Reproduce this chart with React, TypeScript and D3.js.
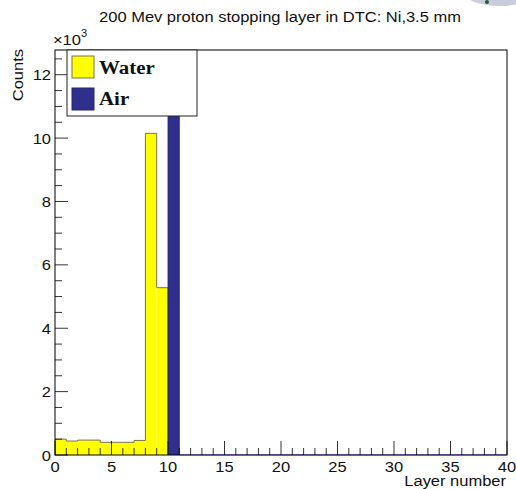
import React from "react";
import * as d3 from "d3";

const title = "200 Mev proton stopping layer in DTC: Ni,3.5 mm";
const layerEdges = d3.range(0, 41);
const waterCounts = [500, 440, 470, 470, 400, 400, 400, 460, 10150, 5280, 0, 0, 0, 0, 0, 0, 0, 0, 0, 0, 0, 0, 0, 0, 0, 0, 0, 0, 0, 0, 0, 0, 0, 0, 0, 0, 0, 0, 0, 0];
const airCounts = [0, 0, 0, 0, 0, 0, 0, 0, 0, 0, 15200, 0, 0, 0, 0, 0, 0, 0, 0, 0, 0, 0, 0, 0, 0, 0, 0, 0, 0, 0, 0, 0, 0, 0, 0, 0, 0, 0, 0, 0];
const xMajorTicks = [0, 5, 10, 15, 20, 25, 30, 35, 40];
const yMajorTicks = [0, 2, 4, 6, 8, 10, 12];
const legendItems = ["Water", "Air"];

const W = 516;
const H = 489;
const L = 55, R = 507, T = 50, B = 455;
const WATER = "#ffff00";
const WATER_LINE = "#7a7250";
const AIR = "#2f2f8c";
const SX = 1.1;
const font = "'Liberation Sans', Arial, sans-serif";

function Txt({ x, y, anchor = "start", size = 15, rotate = 0, family = font, weight = "normal", children }: any) {
  return (
    <text
      transform={`translate(${x},${y}) rotate(${rotate}) scale(${SX},1)`}
      textAnchor={anchor}
      fontFamily={family}
      fontWeight={weight}
      fontSize={size}
      fill="#111"
    >
      {children}
    </text>
  );
}

export default function App() {
  const x = d3.scaleLinear().domain([0, 40]).range([L, R]);
  const y = d3.scaleLinear().domain([0, 12.78]).range([B, T]);
  const yk = (v: number) => y(v / 1000);

  let outline = `M${x(0)},${yk(0)}`;
  waterCounts.forEach((v, i) => {
    outline += `L${x(layerEdges[i])},${yk(v)}L${x(layerEdges[i + 1])},${yk(v)}`;
  });
  outline += `L${x(40)},${yk(0)}`;

  const xMinor = d3.range(0, 41, 1);
  const yMinor = d3.range(0, 12.76, 0.5);

  return (
    <svg width={W} height={H} style={{ position: "absolute", left: 0, top: 0, background: "#fff" }}>
      <defs>
        <clipPath id="frame">
          <rect x={L} y={T} width={R - L} height={B - T} />
        </clipPath>
      </defs>
      <ellipse cx={500} cy={-6} rx={34} ry={12} fill="#c9ccdc" />
      <circle cx={487} cy={2} r={2} fill="#1f5a3a" />
      <Txt x={280} y={22} anchor="middle" size={15}>{title}</Txt>

      <g clipPath="url(#frame)">
        {waterCounts.map((v, i) => v > 0 ? (
          <rect key={"w" + i} x={x(layerEdges[i])} y={yk(v)} width={x(layerEdges[i + 1]) - x(layerEdges[i])} height={yk(0) - yk(v)} fill={WATER} />
        ) : null)}
        <path d={outline} fill="none" stroke={WATER_LINE} strokeWidth={1} />
        {airCounts.map((v, i) => v > 0 ? (
          <rect key={"a" + i} x={x(layerEdges[i])} y={yk(v)} width={x(layerEdges[i + 1]) - x(layerEdges[i])} height={yk(0) - yk(v)} fill={AIR} stroke="#24246e" strokeWidth={0.8} />
        ) : null)}
      </g>

      <rect x={L} y={T} width={R - L} height={B - T} fill="none" stroke="#000" strokeWidth={1} />
      <line x1={x(11)} x2={R} y1={B + 1} y2={B + 1} stroke="#fffbc0" strokeWidth={1} />
      <line x1={x(11)} x2={R} y1={B} y2={B} stroke="#4a3fa0" strokeWidth={1.3} />

      {xMinor.map((t) => (
        <line key={"xm" + t} x1={x(t)} x2={x(t)} y1={B} y2={B - (t % 5 === 0 ? 14 : 7)} stroke="#000" strokeWidth={0.8} />
      ))}
      {xMajorTicks.map((t) => (
        <Txt key={"xl" + t} x={x(t)} y={472} anchor="middle">{t}</Txt>
      ))}
      <Txt x={506} y={486} anchor="end">Layer number</Txt>

      {yMinor.map((t) => (
        <line key={"ym" + t} x1={L} x2={L + (Math.abs(t % 2) < 1e-6 ? 13 : 7)} y1={y(t)} y2={y(t)} stroke="#000" strokeWidth={0.8} />
      ))}
      {yMajorTicks.map((t) => (
        <Txt key={"yl" + t} x={51} y={y(t) + 5.5} anchor="end">{t}</Txt>
      ))}
      <Txt x={53} y={45}>×10</Txt>
      <Txt x={81} y={37} size={10}>3</Txt>
      <Txt x={23} y={49} rotate={-90} anchor="end">Counts</Txt>

      <rect x={67} y={50} width={130} height={66} fill="#fff" stroke="#222" strokeWidth={1} />
      <rect x={72} y={56} width={22} height={22} fill={WATER} stroke={WATER_LINE} strokeWidth={1} />
      <rect x={72} y={88} width={22} height={22} fill={AIR} stroke="#24246e" strokeWidth={1} />
      {legendItems.map((s, i) => (
        <Txt key={s} x={99} y={74 + i * 31} family="'Liberation Serif', 'Times New Roman', serif" weight="bold" size={19}>{s}</Txt>
      ))}
    </svg>
  );
}
